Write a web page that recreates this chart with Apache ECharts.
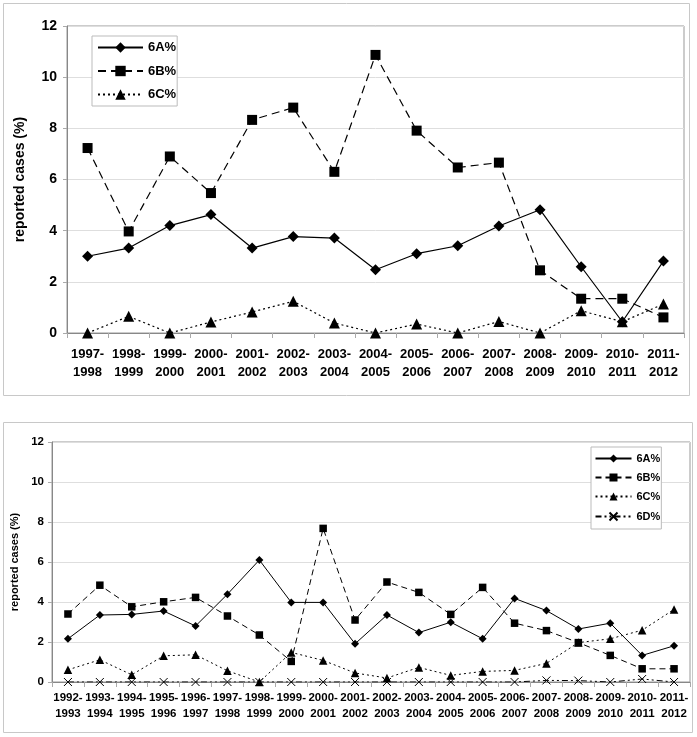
<!DOCTYPE html>
<html>
<head>
<meta charset="utf-8">
<script src="https://cdn.jsdelivr.net/npm/echarts@6/dist/echarts.min.js"></script>
<style>
html,body{margin:0;padding:0;background:#fff;}
#c1{position:absolute;left:0;top:0;width:697px;height:400px;}
#c2{position:absolute;left:0;top:400px;width:697px;height:337px;}
</style>
</head>
<body>
<div id="c1"></div>
<div id="c2"></div>
<script>
// ---- Top chart data ----
const topCategories = ['1997-1998','1998-1999','1999-2000','2000-2001','2001-2002','2002-2003','2003-2004','2004-2005','2005-2006','2006-2007','2007-2008','2008-2009','2009-2010','2010-2011','2011-2012'];
const top6A = [3.0, 3.32, 4.2, 4.63, 3.32, 3.77, 3.71, 2.47, 3.1, 3.41, 4.18, 4.82, 2.59, 0.44, 2.81];
const top6B = [7.23, 3.97, 6.9, 5.47, 8.33, 8.81, 6.3, 10.87, 7.91, 6.47, 6.66, 2.45, 1.34, 1.34, 0.61];
const top6C = [0, 0.65, 0, 0.43, 0.82, 1.24, 0.39, 0, 0.35, 0, 0.45, 0, 0.87, 0.44, 1.13];

// ---- Bottom chart data ----
const botCategories = ['1992-1993','1993-1994','1994-1995','1995-1996','1996-1997','1997-1998','1998-1999','1999-2000','2000-2001','2001-2002','2002-2003','2003-2004','2004-2005','2005-2006','2006-2007','2007-2008','2008-2009','2009-2010','2010-2011','2011-2012'];
const bot6A = [2.16, 3.35, 3.38, 3.55, 2.8, 4.39, 6.1, 3.98, 3.98, 1.91, 3.35, 2.47, 2.99, 2.16, 4.18, 3.57, 2.65, 2.94, 1.33, 1.81];
const bot6B = [3.4, 4.84, 3.76, 4.01, 4.23, 3.3, 2.35, 1.03, 7.68, 3.1, 5.0, 4.48, 3.38, 4.73, 2.94, 2.57, 1.97, 1.33, 0.66, 0.66];
const bot6C = [0.61, 1.11, 0.36, 1.31, 1.36, 0.56, 0, 1.48, 1.08, 0.45, 0.2, 0.73, 0.33, 0.53, 0.58, 0.93, 1.97, 2.16, 2.59, 3.63];
const bot6D = [0, 0, 0, 0, 0, 0, 0, 0, 0, 0, 0, 0, 0, 0, 0, 0.08, 0.07, 0, 0.15, 0];

const yTicks = [0, 2, 4, 6, 8, 10, 12];
const yTitle = 'reported cases (%)';

const FONT = '"Liberation Sans", Arial, sans-serif';
const crossPath = 'path://M0,0L10,10M10,0L0,10';

function catFmt(v){ return v.replace('-', '-\n'); }

function lineSeries(name, data, symbol, size, dash, w){
  return {
    name: name, type: 'line', data: data, symbol: symbol, symbolSize: size,
    showAllSymbol: true,
    lineStyle: {color: '#000', width: w, type: dash},
    itemStyle: {color: '#000', borderColor: '#000', borderWidth: 0},
    emphasis: {disabled: true},
    animation: false
  };
}

function makeOption(cfg){
  return {
    animation: false,
    textStyle: {fontFamily: FONT},
    graphic: [{
      type: 'rect', silent: true,
      shape: cfg.frame,
      style: {fill: 'none', stroke: '#c8c8c8', lineWidth: 1}
    }],
    grid: Object.assign({show: true, borderColor: '#999', borderWidth: 1, backgroundColor: 'transparent'}, cfg.grid),
    legend: Object.assign({
      orient: 'vertical',
      backgroundColor: '#fff',
      borderColor: '#bbb', borderWidth: 1,
      textStyle: {fontFamily: FONT, fontWeight: 'bold', color: '#000'},
      selectedMode: false
    }, cfg.legend),
    xAxis: {
      type: 'category', data: cfg.categories, boundaryGap: true,
      axisLine: {lineStyle: {color: '#888'}},
      axisTick: {show: true, length: 5, lineStyle: {color: '#aaa'}, alignWithLabel: false},
      axisLabel: {interval: 0, formatter: catFmt, color: '#000', fontWeight: 'bold', fontFamily: FONT,
        fontSize: cfg.xFont, lineHeight: cfg.xLine, margin: cfg.xMargin},
      splitLine: {show: false}
    },
    yAxis: {
      type: 'value', min: yTicks[0], max: yTicks[yTicks.length-1], interval: 2,
      name: yTitle, nameLocation: 'middle', nameGap: cfg.nameGap,
      nameTextStyle: {fontFamily: FONT, fontWeight: 'bold', fontSize: cfg.nameFont, color: '#000'},
      axisLine: {show: true, lineStyle: {color: '#888'}},
      axisTick: {show: true, length: 4, lineStyle: {color: '#aaa'}},
      axisLabel: {color: '#000', fontWeight: 'bold', fontFamily: FONT, fontSize: cfg.yFont, margin: cfg.yMargin},
      splitLine: {show: true, lineStyle: {color: '#dedede', width: 1}}
    },
    series: cfg.series
  };
}

const c1 = echarts.init(document.getElementById('c1'), null, {renderer: 'canvas'});
c1.setOption(makeOption({
  frame: {x: 3.5, y: 3.5, width: 686, height: 392},
  grid: {left: 67, top: 26, width: 617, height: 307},
  legend: {left: 92, top: 36, padding: [5, 1, 5, 5], itemWidth: 45, itemHeight: 13, itemGap: 10.5,
    textStyle: {fontFamily: FONT, fontWeight: 'bold', color: '#000', fontSize: 13}},
  categories: topCategories,
  xFont: 13, xLine: 18, xMargin: 12,
  yFont: 14, yMargin: 10,
  nameGap: 40, nameFont: 14,
  series: [
    lineSeries('6A%', top6A, 'diamond', 11, 'solid', 1.2),
    lineSeries('6B%', top6B, 'rect', 10, [8, 5], 1.2),
    lineSeries('6C%', top6C, 'triangle', 11, [2, 3], 1.2)
  ]
}));

const cross = lineSeries('6D%', bot6D, crossPath, 8, [6, 3, 2, 3, 2, 3], 1);
cross.itemStyle = {color: 'none', borderColor: '#000', borderWidth: 1};

const c2 = echarts.init(document.getElementById('c2'), null, {renderer: 'canvas'});
c2.setOption(makeOption({
  frame: {x: 3.5, y: 22.5, width: 689, height: 310},
  grid: {left: 52, top: 42, width: 638, height: 240},
  legend: {left: 591, top: 47, padding: [6, 1, 6, 3.5], itemWidth: 36, itemHeight: 10, itemGap: 8,
    textStyle: {fontFamily: FONT, fontWeight: 'bold', color: '#000', fontSize: 11}},
  categories: botCategories,
  xFont: 11.5, xLine: 16, xMargin: 8,
  yFont: 11.5, yMargin: 8,
  nameGap: 30, nameFont: 11,
  series: [
    lineSeries('6A%', bot6A, 'diamond', 8, 'solid', 1),
    lineSeries('6B%', bot6B, 'rect', 7.5, [6, 4], 1),
    lineSeries('6C%', bot6C, 'triangle', 8.5, [2, 3], 1),
    cross
  ]
}));
</script>
</body>
</html>
